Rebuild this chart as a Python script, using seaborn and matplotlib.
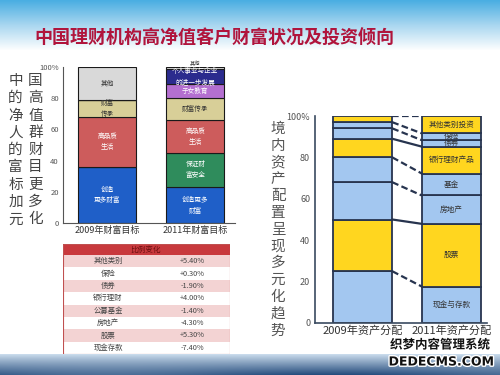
import numpy as np
import pandas as pd
import matplotlib
matplotlib.use("Agg")
import matplotlib.pyplot as plt
import matplotlib.patheffects as pe
from matplotlib.patches import Rectangle
import seaborn as sns

sns.set_theme(style="white")
plt.rcParams['font.family'] = ['Noto Sans CJK SC', 'DejaVu Sans']

# ---------------- data ----------------
title = "中国理财机构高净值客户财富状况及投资倾向"
left_note = ["中国", "的高", "净值", "人群", "的财", "富目", "标更", "加多", "元化"]
right_note = "境内资产配置呈现多元化趋势"

goal_years = ["2009年财富目标", "2011年财富目标"]
goal_segments = ["创造更多财富", "保证财富安全", "高品质生活", "财富传承", "子女教育",
                 "个人事业与企业的进一步发展", "其他"]
goal_2009 = [36, 0, 32, 11, 0, 0, 21]
goal_2011 = [23, 22, 21, 14, 9, 10, 1]
goal_colors = ["#1f5fc8", "#2f8c5c", "#cd5c5c", "#d8cf98", "#b46fd0", "#2b2b8e", "#d9d9d9"]
goal_labels_2009 = ["创造\n更多财富", "", "高品质\n生活", "财富\n传承", "", "", "其他"]
goal_labels_2011 = ["创造更多\n财富", "保证财\n富安全", "高品质\n生活", "财富传承", "子女教育",
                    "个人事业与企业\n的进一步发展", "其他"]
goal_text_colors = ["white", "white", "white", "#333333", "white", "white", "#333333"]

asset_years = ["2009年资产分配", "2011年资产分配"]
assets = ["现金与存款", "股票", "房地产", "基金", "银行理财产品", "债券", "保险", "其他类别投资"]
asset_2009 = [25, 25, 18, 12, 9, 5, 3, 3]
asset_2011 = [17.6, 30.3, 13.7, 10.6, 13.0, 3.1, 3.3, 8.4]
asset_colors = ["#a3c7f0", "#ffd61f", "#a3c7f0", "#a3c7f0", "#ffd61f", "#a3c7f0", "#a3c7f0", "#ffd61f"]
connector_styles = ["--", "-", "--", "--", "-", "--", "--", "--"]

table_header = "比例变化"
table_cats = ["其他类别", "保险", "债券", "银行理财", "公募基金", "房地产", "股票", "现金存款"]
table_vals = ["+5.40%", "+0.30%", "-1.90%", "+4.00%", "-1.40%", "-4.30%", "+5.30%", "-7.40%"]

W, H = 500, 375
fig = plt.figure(figsize=(5, 3.75), dpi=100)

# ---------------- background ----------------
bg_ax = fig.add_axes([0, 0, 1, 1], zorder=-5)
yy = np.arange(H)[:, None] * np.ones((1, W))
xx = np.ones((H, 1)) * np.arange(W)[None, :]
top = np.array([74, 174, 226]) / 255
mid = np.array([170, 215, 240]) / 255
t1 = np.clip(yy / 25, 0, 1)[..., None]
t2 = np.clip((yy - 25) / 25, 0, 1)[..., None]
img = np.where(yy[..., None] < 25, top * (1 - t1) + mid * t1, mid * (1 - t2) + 1 * t2)
# footer
f0 = 354
ft = np.clip((yy - f0) / (H - f0), 0, 1)[..., None]
light = np.array([200, 218, 235]) / 255
dark = np.array([30, 70, 120]) / 255
wave = (0.5 + 0.5 * np.sin(xx / 70.0))[..., None] * 0.25
foot = light * (1 - ft) + dark * ft
foot = foot * (1 - wave * ft) + light * wave * ft
img = np.where((yy >= f0)[..., None], foot, img)
bg_ax.imshow(img, extent=[0, W, H, 0], aspect="auto")
bg_ax.set_xlim(0, W)
bg_ax.set_ylim(H, 0)
bg_ax.axis("off")

def fx(px):
    return px / W

def fy(py):
    return 1 - py / H

# title
fig.text(fx(34), fy(38), title, fontsize=13, fontweight="bold", color="#b0143c",
         ha="left", va="center")

# left vertical note
for i, pair in enumerate(left_note):
    for j, ch in enumerate(pair):
        fig.text(fx(15.5 + j * 20), fy(81 + i * 17.3), ch, fontsize=10.5, color="#444444",
                 fontweight="light", ha="center", va="center")

# right vertical note
for i, ch in enumerate(right_note):
    fig.text(fx(278), fy(129 + i * 16.8), ch, fontsize=10.5, color="#555555",
             fontweight="light", ha="center", va="center")

# ---------------- left chart ----------------
axL = fig.add_axes([fx(63), fy(223), fx(235) - fx(63), fy(67) - fy(223)])
axL.patch.set_alpha(0)
bottom = np.zeros(2)
for k, seg in enumerate(goal_segments):
    vals = np.array([goal_2009[k], goal_2011[k]], dtype=float)
    d = pd.DataFrame({"year": goal_years, "value": vals})
    sns.barplot(data=d, x="year", y="value", order=goal_years, color=goal_colors[k],
                bottom=bottom, width=0.66, edgecolor="#1a1a1a", linewidth=0.8,
                saturation=1, ax=axL)
    for xi, (v, lab) in enumerate(zip(vals, [goal_labels_2009[k], goal_labels_2011[k]])):
        if lab:
            if v > 2:
                axL.text(xi, bottom[xi] + v / 2, lab, ha="center", va="center", fontsize=4.8,
                         color=goal_text_colors[k], linespacing=1.5)
            else:
                axL.text(xi, bottom[xi] + v + 0.3, lab, ha="center", va="bottom", fontsize=3.8,
                         color=goal_text_colors[k])
    bottom = bottom + vals
axL.set_xlim(-0.5, 1.45)
axL.set_ylim(0, 100)
axL.set_yticks([0, 20, 40, 60, 80, 100])
axL.set_yticklabels(["0", "20", "40", "60", "80", "100%"])
axL.tick_params(axis="y", labelsize=5.5, colors="#555555", length=2, pad=1)
axL.tick_params(axis="x", labelsize=6.5, colors="#333333", length=0, pad=2)
axL.set_xlabel("")
axL.set_ylabel("")
for s in ["top", "right"]:
    axL.spines[s].set_visible(False)
for s in ["left", "bottom"]:
    axL.spines[s].set_color("#555555")
    axL.spines[s].set_linewidth(0.8)

# ---------------- table ----------------
axT = fig.add_axes([fx(63), fy(354), fx(230) - fx(63), fy(244) - fy(354)])
axT.set_xlim(63, 230)
axT.set_ylim(354, 244)
axT.axis("off")
axT.add_patch(Rectangle((63, 244), 167, 11, facecolor="#c8393d", edgecolor="none"))
axT.text(146, 249.5, table_header, ha="center", va="center", fontsize=5.5, color="#6e1010")
row_h = (354 - 255) / len(table_cats)
for i, (c, v) in enumerate(zip(table_cats, table_vals)):
    y0 = 255 + i * row_h
    fc = "#f3d3d3" if i % 2 == 0 else "white"
    axT.add_patch(Rectangle((63, y0), 167, row_h, facecolor=fc, edgecolor="none"))
    axT.text(108, y0 + row_h / 2, c, ha="center", va="center", fontsize=5.3, color="#444444")
    axT.text(192, y0 + row_h / 2, v, ha="center", va="center", fontsize=5.3, color="#444444")
axT.add_patch(Rectangle((63, 244), 167, 110, facecolor="none", edgecolor="#c05050", linewidth=0.8))

# ---------------- right chart ----------------
axR = fig.add_axes([fx(315), fy(323), fx(487) - fx(315), fy(116) - fy(323)])
axR.patch.set_alpha(0)
bw = 0.667
bottom = np.zeros(2)
for k, a in enumerate(assets):
    vals = np.array([asset_2009[k], asset_2011[k]], dtype=float)
    d = pd.DataFrame({"year": asset_years, "value": vals})
    sns.barplot(data=d, x="year", y="value", order=asset_years, color=asset_colors[k],
                bottom=bottom, width=bw, edgecolor="#27344f", linewidth=1.3,
                saturation=1, ax=axR)
    bottom = bottom + vals
    axR.plot([bw / 2, 1 - bw / 2], [bottom[0], bottom[1]], linestyle=connector_styles[k],
             color="#27344f", linewidth=1.6,
             dashes=(3, 1.5) if connector_styles[k] == "--" else (None, None))
# labels on 2011 bar
cum = np.concatenate([[0], np.cumsum(asset_2011)])
for k, a in enumerate(assets):
    yc = (cum[k] + cum[k + 1]) / 2
    axR.text(1, yc, a, ha="center", va="center", fontsize=5.5, color="#333333")
axR.set_xlim(-0.537, 1.4)
axR.set_ylim(0, 100)
axR.set_yticks([0, 20, 40, 60, 80, 100])
axR.set_yticklabels(["0", "20", "40", "60", "80", "100%"])
axR.tick_params(axis="y", labelsize=6.5, colors="#555555", length=2.5, pad=1)
axR.tick_params(axis="x", labelsize=8, colors="#333333", length=0, pad=2)
axR.set_xlabel("")
axR.set_ylabel("")
for s in ["top", "right"]:
    axR.spines[s].set_visible(False)
for s in ["left", "bottom"]:
    axR.spines[s].set_color("#3a4a60")
    axR.spines[s].set_linewidth(1.2)

# watermark
wm = [pe.withStroke(linewidth=2, foreground="white")]
fig.text(fx(440), fy(345), "织梦内容管理系统", fontsize=9, fontweight="bold", color="#111111",
         ha="center", va="center", path_effects=wm)
fig.text(fx(441), fy(362), "DEDECMS.COM", fontsize=9, fontweight="bold", color="#111111",
         ha="center", va="center", path_effects=wm, family="DejaVu Sans")

fig.savefig("out.png", dpi=100)
